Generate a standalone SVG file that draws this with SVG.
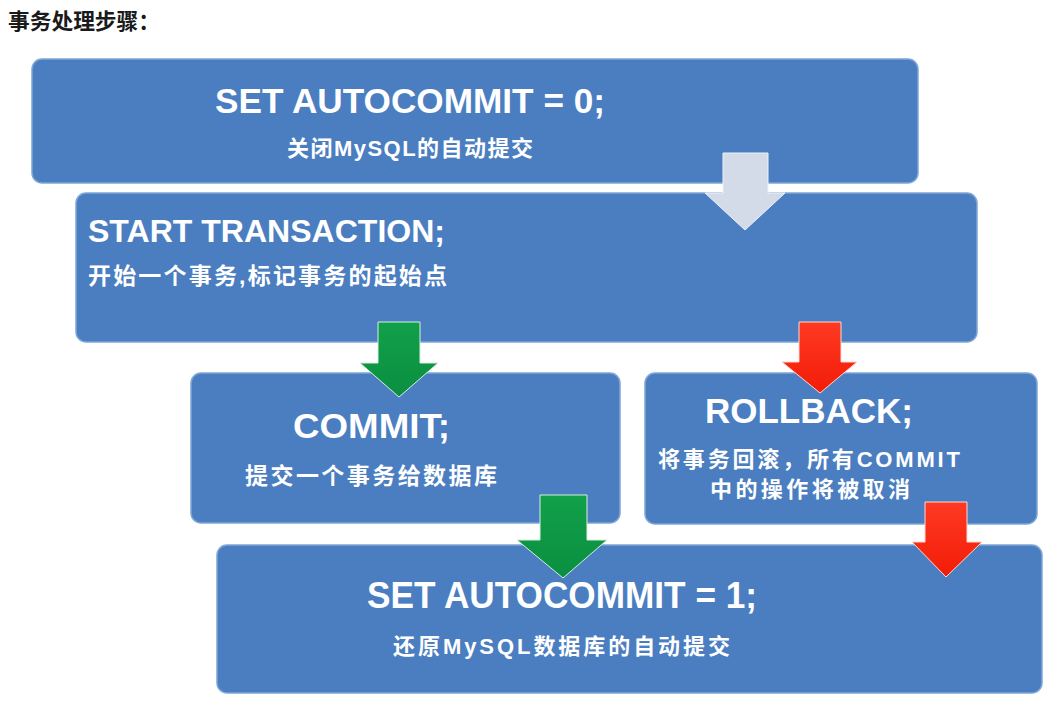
<svg xmlns="http://www.w3.org/2000/svg" width="1059" height="705" viewBox="0 0 1059 705">
<style>
.box{fill:#4a7ec0;stroke:#7fa6d6;stroke-width:1.5}
.t{font-family:"Liberation Sans","Noto Sans CJK SC",sans-serif;font-weight:bold;fill:#ffffff}
.big{font-size:35px}
.cn{font-size:22px}
.title{font-family:"Liberation Sans","Noto Sans CJK SC",sans-serif;font-weight:bold;font-size:22px;fill:#1a1a1a}
.gray{fill:#d3dbe8;stroke:#eef2f8;stroke-width:1}
.green{fill:url(#gg);stroke:#d8eede;stroke-width:1}
.red{fill:url(#rg);stroke:#ffd8d0;stroke-width:1}
</style>
<defs>
<linearGradient id="gg" x1="0" y1="0" x2="0" y2="1">
<stop offset="0" stop-color="#12a04a"/>
<stop offset="1" stop-color="#0a8f40"/>
</linearGradient>
<linearGradient id="rg" x1="0" y1="0" x2="0" y2="1">
<stop offset="0" stop-color="#ff3a22"/>
<stop offset="1" stop-color="#f21c08"/>
</linearGradient>
</defs>
<rect width="1059" height="705" fill="#ffffff"/>
<text class="title" x="8" y="29" textLength="152" lengthAdjust="spacingAndGlyphs">事务处理步骤：</text>

<g id="node-set-autocommit-0">
<rect class="box" x="32" y="59" width="886" height="124" rx="10"/>
<text class="t big" x="215" y="113" textLength="390" lengthAdjust="spacingAndGlyphs">SET AUTOCOMMIT = 0;</text>
<text class="t cn" x="287" y="156" textLength="246" lengthAdjust="spacing">关闭MySQL的自动提交</text>
</g>

<g id="node-start-transaction">
<rect class="box" x="76" y="193" width="901" height="149" rx="10"/>
<text class="t" style="font-size:32px" x="88" y="242" textLength="357" lengthAdjust="spacingAndGlyphs">START TRANSACTION;</text>
<text class="t" style="font-size:23px" x="88" y="284" textLength="359" lengthAdjust="spacing">开始一个事务,标记事务的起始点</text>
</g>

<g id="node-commit">
<rect class="box" x="191" y="373" width="429" height="150" rx="10"/>
<text class="t big" x="293" y="438" textLength="157" lengthAdjust="spacingAndGlyphs">COMMIT;</text>
<text class="t" style="font-size:23px" x="245" y="484" textLength="252" lengthAdjust="spacing">提交一个事务给数据库</text>
</g>

<g id="node-rollback">
<rect class="box" x="645" y="373" width="392" height="151" rx="10"/>
<text class="t big" x="705" y="423" textLength="208" lengthAdjust="spacingAndGlyphs">ROLLBACK;</text>
<text class="t cn" x="658" y="467" textLength="302" lengthAdjust="spacing">将事务回滚，所有COMMIT</text>
<text class="t cn" x="710" y="497" textLength="200" lengthAdjust="spacing">中的操作将被取消</text>
</g>

<g id="node-set-autocommit-1">
<rect class="box" x="217" y="545" width="825" height="148" rx="10"/>
<text class="t" style="font-size:36px" x="367" y="608" textLength="390" lengthAdjust="spacingAndGlyphs">SET AUTOCOMMIT = 1;</text>
<text class="t cn" x="393" y="654" textLength="337" lengthAdjust="spacing">还原MySQL数据库的自动提交</text>
</g>

<g id="connectors">
<polygon class="gray" points="723,153 768,153 768,193 785,193 745,230 705,193 723,193"/>
<polygon class="green" points="378,322 420,322 420,363 438,363 399,397 360,363 378,363"/>
<polygon class="red" points="799,322 841,322 841,362 857,362 820,393 782,362 799,362"/>
<polygon class="green" points="540,495 587,495 587,540 607,540 563,578 517,540 540,540"/>
<polygon class="red" points="925,502 967,502 967,542 982,542 946,577 912,542 925,542"/>
</g>
</svg>
